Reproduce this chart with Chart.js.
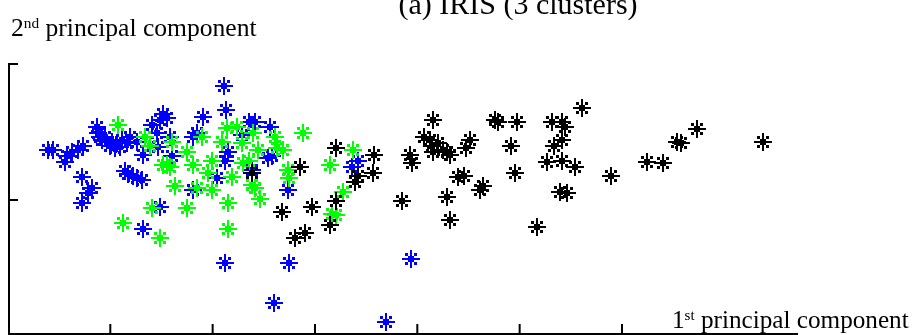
<!DOCTYPE html>
<html>
<head>
<meta charset="utf-8">
<script src="https://cdn.jsdelivr.net/npm/chart.js@4.4.1/dist/chart.umd.min.js"></script>
<style>
  html, body { margin: 0; padding: 0; background: #fff; overflow: hidden; }
  #wrap { position: relative; width: 912px; height: 335px; overflow: hidden; }
  canvas { position: absolute; left: 0; top: 0; }
  .lbl { position: absolute; white-space: nowrap; font-family: "Liberation Serif", "Times New Roman", serif; color: #000; }
  .lbl .sup { position: relative; top: -0.55em; font-size: 0.6em; }
</style>
</head>
<body>
<div id="wrap">
  <canvas id="chart" width="912" height="335"></canvas>
  <div class="lbl" id="title" style="font-size:30px; line-height:30px; left:518px; top:-11px; transform:translateX(-50%);">(a) IRIS (3 clusters)</div>
  <div class="lbl" id="ylab" style="font-size:25.6px; line-height:26px; left:11px; top:15px;">2<span class="sup">nd</span> principal component</div>
  <div class="lbl" id="xlab" style="font-size:25.2px; line-height:25px; left:672px; top:307px;">1<span class="sup">st</span> principal component</div>
</div>
<script>
// Cluster 1 (blue)
const blueX = [-3.61,-3.56,-3.44,-3.42,-3.37,-3.32,-3.27,-3.13,-3.12,-3.08,-3.05,-2.98,-2.93,-2.89,-2.84,-2.95,-2.81,-2.74,-3.10,-3.00,-2.91,-2.68,-2.59,-2.54,-2.49,-2.45,-2.51,-2.53,-2.40,-2.42,-3.28,-3.18,-3.22,-3.28,-2.86,-2.78,-2.74,-2.69,-2.83,-2.51,-2.68,-2.09,-1.89,-1.87,-1.64,-1.59,-1.44,-1.71,-2.19,-2.15,-1.85,-1.88,-1.46,-1.62,-1.96,-2.19,-1.26,-1.42,-0.64,-0.58,-1.88,-1.25,-1.40,-0.06,-0.31];
const blueY = [0.37,0.37,0.28,0.32,0.35,0.37,0.40,0.54,0.49,0.44,0.46,0.43,0.42,0.44,0.42,0.38,0.46,0.43,0.46,0.40,0.39,0.33,0.55,0.49,0.63,0.60,0.59,0.39,0.32,0.46,0.17,0.09,0.05,-0.02,0.21,0.18,0.16,0.15,0.19,-0.05,-0.21,0.61,0.84,0.66,0.57,0.57,0.54,0.48,0.46,0.49,0.35,0.29,0.31,0.22,0.16,0.07,0.07,0.32,0.24,0.29,-0.46,-0.46,-0.76,-0.43,-0.90];

// Cluster 2 (green)
const greenX = [-2.92,-2.66,-2.61,-2.40,-2.45,-2.42,-2.49,-2.37,-2.59,-2.10,-2.25,-1.91,-1.86,-1.76,-1.61,-1.39,-1.12,-1.37,-1.31,-1.71,-1.56,-2.19,-2.01,-2.05,-1.81,-1.70,-1.64,-1.62,-1.59,-1.54,-1.26,-1.25,-2.15,-2.01,-1.85,-2.25,-2.88,-2.51,-1.85,-0.85,-0.63,-0.73,-0.83,-0.79];
const greenY = [0.55,0.46,0.40,0.43,0.26,0.24,0.26,0.10,-0.06,0.46,0.35,0.43,0.53,0.54,0.49,0.46,0.49,0.38,0.37,0.42,0.37,0.26,0.29,0.20,0.17,0.27,0.29,0.11,0.09,0.01,0.22,0.16,0.09,0.07,-0.02,-0.06,-0.17,-0.28,-0.21,0.26,0.37,0.06,-0.10,-0.11];

// Cluster 3 (black)
const blackX = [-1.62,-1.15,-1.32,-0.79,-0.42,-0.43,-0.58,-0.61,-0.79,-1.03,-0.85,-1.10,-1.20,-0.15,0.15,0.07,0.12,0.20,0.15,0.29,0.32,0.25,-0.07,-0.05,0.51,0.48,0.76,0.79,0.97,0.92,0.40,0.46,0.61,0.64,0.95,0.29,0.32,1.17,1.32,1.41,1.44,1.61,1.34,1.41,1.27,1.41,1.54,1.39,1.46,1.89,2.24,2.40,2.54,2.58,2.73,3.38,0.14];
const blackY = [0.20,0.24,-0.09,0.38,0.33,0.20,0.18,0.13,-0.01,-0.05,-0.18,-0.24,-0.28,-0.01,0.59,0.46,0.44,0.42,0.35,0.35,0.33,0.37,0.33,0.27,0.44,0.38,0.59,0.57,0.57,0.40,0.17,0.18,0.07,0.10,0.20,0.02,-0.15,-0.20,0.57,0.57,0.54,0.68,0.40,0.44,0.28,0.29,0.24,0.06,0.05,0.18,0.28,0.27,0.43,0.42,0.52,0.43,0.40];

// Axis ticks
const xTicks = [-3, -2, -1, 0, 1, 2];
const yTicks = [0, 1];
const xRange = [-3.99, 3.72];
const yRange = [-0.985, 1];

const toPoints = (xs, ys) => xs.map((x, i) => ({ x, y: ys[i] }));

// Asterisk marker sprite: plus arms, solid centre, diagonal dots
function asterisk(color) {
  const c = document.createElement('canvas');
  c.width = 18; c.height = 18;
  const g = c.getContext('2d');
  g.fillStyle = color;
  g.fillRect(8, 0, 2, 18);
  g.fillRect(0, 8, 18, 2);
  g.fillRect(6, 6, 6, 6);
  g.fillRect(3, 3, 3, 3);
  g.fillRect(12, 3, 3, 3);
  g.fillRect(3, 12, 3, 3);
  g.fillRect(12, 12, 3, 3);
  return c;
}

const crisp = (chart) => { chart.ctx.imageSmoothingEnabled = false; };

// Box axes with inward tick marks
const axesPlugin = {
  id: 'boxAxes',
  beforeDraw: crisp,
  beforeDatasetsDraw: crisp,
  beforeDatasetDraw: crisp,
  afterDraw(chart) {
    const { ctx, chartArea: a } = chart;
    const xs = chart.scales.x, ys = chart.scales.y;
    ctx.save();
    ctx.strokeStyle = '#000';
    ctx.lineWidth = 2;
    ctx.beginPath();
    ctx.moveTo(a.left, ys.getPixelForValue(yRange[1]) - 1);
    ctx.lineTo(a.left, a.bottom);
    ctx.lineTo(a.right, a.bottom);
    for (const t of xTicks) {
      const px = xs.getPixelForValue(t);
      ctx.moveTo(px, a.bottom);
      ctx.lineTo(px, a.bottom - 10);
    }
    for (const t of yTicks) {
      const py = ys.getPixelForValue(t);
      ctx.moveTo(a.left, py);
      ctx.lineTo(a.left + 9, py);
    }
    ctx.stroke();
    ctx.restore();
  }
};

new Chart(document.getElementById('chart'), {
  type: 'scatter',
  data: {
    datasets: [
      { label: 'cluster 1', data: toPoints(blueX, blueY), pointStyle: asterisk('#0000ff'), pointRadius: 9, order: 3, clip: false },
      { label: 'cluster 2', data: toPoints(greenX, greenY), pointStyle: asterisk('#00ff00'), pointRadius: 9, order: 2, clip: false },
      { label: 'cluster 3', data: toPoints(blackX, blackY), pointStyle: asterisk('#000000'), pointRadius: 9, order: 1, clip: false }
    ]
  },
  options: {
    responsive: false,
    animation: false,
    devicePixelRatio: 1,
    layout: { autoPadding: false, padding: { left: 9, right: 114, top: 64, bottom: 1 } },
    plugins: { legend: { display: false }, tooltip: { enabled: false }, title: { display: false } },
    scales: {
      x: { type: 'linear', display: false, min: xRange[0], max: xRange[1] },
      y: { type: 'linear', display: false, min: yRange[0], max: yRange[1] }
    }
  },
  plugins: [axesPlugin]
});
</script>
</body>
</html>
